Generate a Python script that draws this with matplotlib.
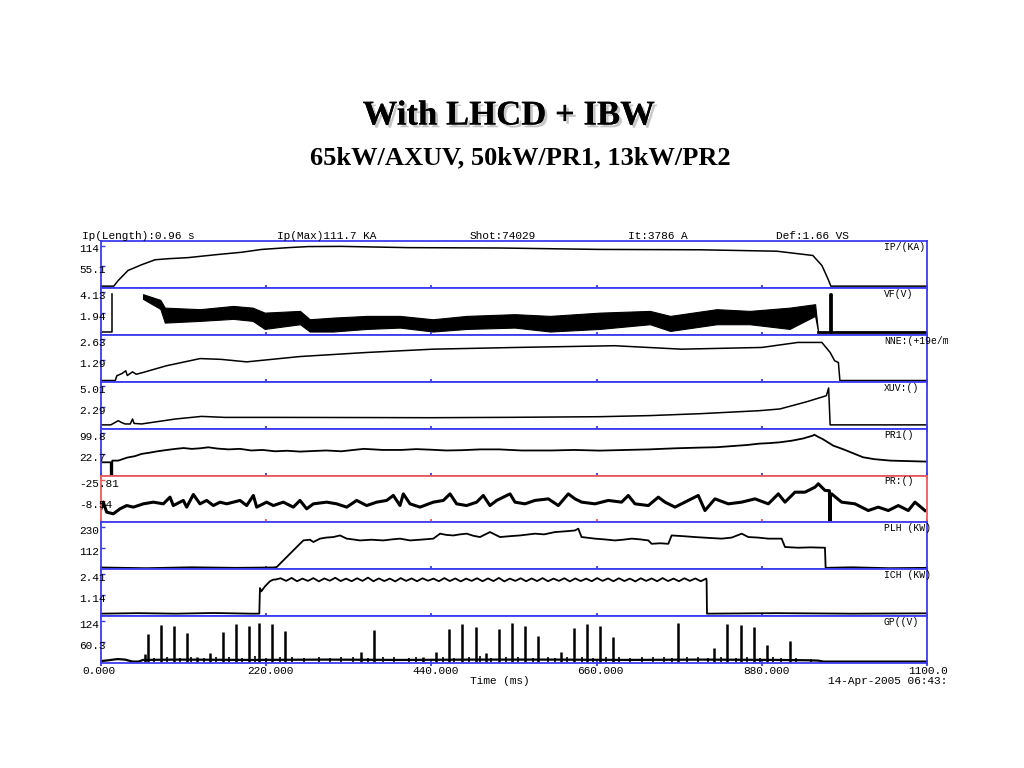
import numpy as np
import matplotlib
matplotlib.use("Agg")
import matplotlib.pyplot as plt
import matplotlib.patheffects as pe
from matplotlib.transforms import Bbox, TransformedBbox, blended_transform_factory, offset_copy

W, H = 1024, 768
BLUE = '#3c3cf0'
RED = '#f05a5a'
MONO = 'Liberation Mono'

# ---- data (time in ms) ----
IP_t = [0, 17, 23, 36, 54, 72, 90, 116, 152, 187, 214, 249, 276, 320, 409, 531, 664, 798, 900, 948, 960, 968, 972, 1100]
IP_v = [0, 0, 16, 44, 60, 74, 77, 80, 88, 95, 103, 108, 111, 111.5, 108, 107, 103, 102, 98, 86, 58, 21, 0, 0]

VF_band_t = [56, 79, 85, 132, 176, 202, 218, 265, 278, 309, 354, 398, 442, 487, 551, 598, 664, 731, 758, 820, 864, 917, 951, 955]
VF_upper = [3.94, 3.35, 2.54, 2.38, 2.72, 2.54, 2.02, 2.20, 1.33, 1.50, 1.68, 1.68, 1.33, 1.68, 1.86, 1.68, 2.02, 2.20, 1.68, 2.38, 2.20, 2.54, 2.90, 0.0]
VF_lower = [3.45, 2.41, 0.98, 1.16, 1.37, 1.16, 0.32, 0.81, 0.05, 0.05, 0.32, 0.46, 0.05, 0.32, 0.46, 0.05, 0.32, 0.81, 0.11, 0.81, 0.81, 0.32, 1.68, 0.0]
VF_lead_t = [0, 14, 14]
VF_lead_v = [0, 0, 3.97]
VF_tail_t = [955, 971, 971, 972, 972, 1100]
VF_tail_v = [0, 0, 3.97, 3.97, 0, 0]

NNE_t = [0, 19, 21, 28, 33, 35, 42, 47, 55, 87, 132, 160, 194, 265, 354, 442, 553, 684, 773, 880, 928, 960, 971, 977, 982, 984, 1100]
NNE_v = [0, 0, 0.30, 0.45, 0.62, 0.32, 0.55, 0.40, 0.50, 0.94, 1.40, 1.35, 1.19, 1.53, 1.79, 2.00, 2.11, 2.22, 2.00, 2.11, 2.43, 2.43, 1.79, 1.26, 1.15, 0, 0]

XUV_t = [0, 13, 23, 27, 32, 39, 42, 44, 54, 99, 134, 165, 232, 350, 438, 550, 664, 730, 798, 877, 904, 940, 966, 969, 971, 1100]
XUV_v = [0, 0, 0.54, 0.32, 0.12, 0.12, 0.76, 0.19, 0.12, 0.76, 1.10, 0.97, 0.97, 0.95, 0.93, 0.98, 1.06, 1.20, 1.45, 1.84, 2.06, 3.00, 3.78, 4.78, 0, 0]

PR1_t = [0, 13, 13, 15, 15, 23, 35, 45, 54, 65, 75, 88, 99, 110, 121, 132, 143, 155, 170, 185, 200, 215, 232, 248, 265, 282, 300, 320,
         350, 375, 400, 420, 438, 460, 480, 505, 530, 560, 600, 630, 664, 700, 730, 765, 798, 820, 840, 860, 877, 890, 904, 920,
         935, 948, 950, 955, 961, 968, 975, 985, 993, 1005, 1015, 1030, 1051, 1075, 1099]
PR1_v = [-7.4, -7.4, -58.8, -58.8, -1.2, -1.2, 10, 15, 23.4, 28, 33, 38, 41.8, 45, 41.8, 44, 47.7, 43, 40, 42, 36, 38, 33, 35, 31.9, 34, 36, 33,
         42, 38, 38, 41, 39, 36, 37, 40, 40, 36, 36, 38, 35.5, 38, 40, 44, 46.6, 48, 52, 56, 61.2, 63, 66, 72,
         80, 90.6, 94, 86, 78, 66, 53.9, 44, 35.5, 22, 11, 4, -1.2, -3, -4.8]

PR2_t = [0, 3.1, 7.5, 16.4, 25.3, 34.2, 43.1, 56.4, 69.7, 83.0, 91.9, 96.3, 109.6, 114.1, 123.0, 131.8, 140.7, 149.6, 158.5, 167.4,
         185.1, 194.0, 202.9, 207.3, 220.6, 229.5, 242.8, 256.1, 265.0, 273.9, 282.8, 300.5, 313.8, 327.2, 340.5, 353.8, 367.1,
         380.4, 389.3, 398.2, 402.6, 411.5, 424.8, 442.6, 455.9, 464.8, 473.6, 486.9, 500.3, 509.1, 518.0, 526.9, 544.7, 551.3,
         564.6, 577.9, 595.7, 609.0, 622.3, 631.2, 640.1, 657.8, 675.6, 693.3, 702.2, 711.1, 728.9, 742.2, 751.1, 764.4, 782.1,
         795.4, 804.3, 817.6, 835.4, 853.2, 870.9, 888.7, 902.0, 910.9, 924.2, 937.5, 950.8, 955.3, 964.2, 970.0, 970.8, 971.5,
         973.0, 986.3, 1004.1, 1021.8, 1035.1, 1048.5, 1061.8, 1075.1, 1084.0, 1097.3]
PR2_v = [-2.1, -7.6, 0.6, 2.0, -2.1, -4.8, -3.5, -6.2, -7.6, -6.2, -11.7, -4.8, -9.0, -3.5, -13.9, -6.2, -9.0, -4.8, -7.6, -6.2,
         -9.0, -4.8, -13.1, -3.5, -7.6, -4.8, -7.6, -3.5, -9.0, -2.1, -6.2, -7.6, -6.2, -3.5, -9.0, -4.8, -7.6,
         -9.0, -13.1, -4.8, -14.4, -6.2, -3.5, -7.6, -9.0, -14.4, -6.2, -4.8, -7.6, -13.1, -4.8, -9.0, -14.4, -7.6,
         -6.2, -9.0, -10.3, -4.8, -14.4, -10.3, -7.6, -6.2, -9.0, -7.6, -13.1, -6.2, -4.8, -11.7, -7.6, -3.5, -9.0,
         -13.1, -0.7, -10.3, -6.2, -7.6, -10.3, -6.2, -14.4, -7.6, -15.8, -15.8, -19.9, -22.7, -17.2, -17.0, 8.85, -14.0,
         -14.4, -7.6, -6.2, -0.7, -3.5, -0.7, -4.8, -0.7, -7.6, -0.7]

PLH_t = [0, 60, 120, 180, 229.5, 234, 247.3, 260.6, 269.5, 278.3, 282.8, 291.6, 300, 309.4, 318.3, 327.2, 335, 344.9, 360, 376,
         388, 398.2, 411.5, 425, 442.6, 451.5, 460, 469.2, 478, 487, 496, 504.7, 518, 531.3, 545, 558, 578, 590, 604.6, 618,
         631.2, 635.6, 640, 657.8, 670, 684.5, 695, 706.7, 718, 728.9, 733.3, 745, 755.5, 759.9, 775, 791, 810, 826.5, 840,
         853.2, 862, 875, 888.7, 906.4, 910.9, 928.6, 945, 964.1, 965, 1000, 1050, 1100]
PLH_v = [2, -2, 3, 0, 2, 4.5, 60.6, 116.8, 154, 158, 145, 164, 170, 173, 182, 164, 160, 154, 158, 154,
         160, 164, 154, 158, 164, 192, 185, 182, 188, 192, 180, 173, 201, 173, 178, 182, 192, 188, 201, 205,
         210, 220, 173, 164, 160, 154, 158, 164, 160, 154, 135, 138, 135, 182, 178, 173, 168, 164, 170,
         192, 173, 170, 164, 164, 117, 113, 115, 113, 0, 3, -2, 0]

ICH_head_t = [0, 50, 100, 150, 200, 210.8, 211.7, 213.5, 218.4, 225, 229.5]
ICH_head_v = [0, 0.03, 0, 0.04, 0, 0, 1.55, 1.35, 1.65, 1.96, 2.06]
ICH_wave = [2.06, 2.14, 1.98, 2.16, 1.96, 2.12, 1.98, 2.15, 1.95, 2.13,
            1.99, 2.17, 1.97, 2.12, 1.96, 2.14, 1.98, 2.18, 1.96, 2.13,
            1.97, 2.12, 1.95, 2.15, 1.98, 2.13, 1.96, 2.14, 1.99, 2.12,
            1.96, 2.15, 1.97, 2.13, 1.95, 2.12, 1.98, 2.14, 1.96, 2.13,
            1.97, 2.16, 1.95, 2.12, 1.98, 2.14, 1.96, 2.13, 1.97, 2.15,
            1.96, 2.12, 1.98, 2.14, 1.95, 2.13, 1.97, 2.12, 1.96, 2.15,
            1.98, 2.13, 1.96, 2.14, 1.97, 2.12, 1.95, 2.14, 1.98, 2.13,
            1.96, 2.15, 1.97, 2.12, 1.96, 2.14, 1.98, 2.13, 1.96, 2.12]
ICH_tail_t = [806.5, 807, 900, 1000, 1100]
ICH_tail_v = [1.98, 0, 0.03, 0, 0.02]

GP_base_t = [0, 10, 22, 32, 42, 50, 56, 100, 200, 300, 400, 500, 600, 700, 800, 900, 940, 955, 962, 1100]
GP_base_v = [1.5, 4, 7.6, 6, 0, 0, 5, 6, 5, 6, 5, 6, 6, 5, 6, 5, 4, 3, 0, 0]
GP_spike_t = [58.6, 62.1, 79.5, 97.2, 114.5, 127.4, 145.2, 162.9, 179.8, 197.1, 210.4, 228.2, 245.5, 346.2, 363.6,
              429.3, 446.1, 463.9, 481.2, 498.9, 512.3, 529.6, 547.3, 564.6, 581.5, 612.1, 629.9, 647.2, 664.5,
              681.8, 768.8, 816.8, 834.1, 851.8, 869.1, 886.4, 917.5]
GP_spike_v = [23, 84, 112, 109, 87, 13, 26, 89, 114, 109, 116, 114, 94, 28, 97,
              14, 29, 100, 113, 106, 26, 100, 116, 109, 79, 29, 102, 115, 109,
              75, 117, 42, 114, 112, 106, 49, 62]
GP_small_t = [70, 88, 105, 120, 137, 153, 170, 188, 205, 220, 238, 255, 270, 290, 305, 320, 335, 355, 375, 390,
              410, 420, 455, 470, 490, 505, 520, 540, 555, 575, 595, 605, 620, 640, 655, 672, 690, 705, 720,
              735, 750, 760, 780, 795, 808, 825, 845, 860, 878, 895, 905, 925, 945]
GP_small_v = [12, 14, 11, 15, 12, 13, 14, 11, 16, 12, 13, 15, 12, 14, 11, 13, 15, 12, 14, 13,
              11, 15, 13, 12, 14, 16, 12, 13, 15, 12, 14, 11, 13, 15, 12, 14, 13, 12, 15,
              13, 14, 12, 13, 15, 12, 14, 11, 13, 12, 14, 11, 10, 8]

PANEL_NAMES = ['IP/(KA)', 'VF(V)', 'NNE:(+19e/m3)', 'XUV:()', 'PR1()', 'PR:()', 'PLH (KW)', 'ICH (KW)', 'GP((V)']
LABEL_TOP = ['114', '4.13', '2.63', '5.01', '99.8', '-25.81', '230', '2.41', '124']
LABEL_MID = ['55.1', '1.94', '1.29', '2.29', '22.7', '-8.54', '112', '1.14', '60.3']
TIME_TICKS = [0, 220, 440, 660, 880, 1100]
TIME_LABELS = ['0.000', '220.000', '440.000', '660.000', '880.000', '1100.000']
HEADER = [('Ip(Length):0.96 s', 82), ('Ip(Max)111.7 KA', 277), ('Shot:74029', 470),
          ('It:3786 A', 628), ('Def:1.66 VS', 776)]

# ---- layout ----
X0, X1 = 101, 927
TOP, PH = 241, 46.9

fig = plt.figure(figsize=(W / 100, H / 100), dpi=100)
fig.patch.set_facecolor('white')

clip = TransformedBbox(Bbox.from_extents(0, 0, 948 / W, 1), fig.transFigure)


def ftext(x, y, s, **kw):
    t = fig.text(x / W, 1 - y / H, s, **kw)
    t.set_clip_box(clip)
    t.set_clip_on(True)
    return t


fig.text(0.497, 1 - 116 / H, 'With LHCD + IBW', ha='center', va='center', family='Liberation Serif',
         weight='bold', fontsize=25,
         path_effects=[pe.withSimplePatchShadow(offset=(2, -2), shadow_rgbFace='#b0b0b0', alpha=0.7), pe.Normal()])
fig.text(0.508, 1 - 158 / H, '65kW/AXUV, 50kW/PR1, 13kW/PR2', ha='center', va='center',
         family='Liberation Serif', weight='bold', fontsize=19)

for s, x in HEADER:
    ftext(x, 236, s, family=MONO, fontsize=8, va='center', ha='left')

axes = []
for i in range(9):
    top = TOP + PH * i
    ax = fig.add_axes([X0 / W, 1 - (top + PH) / H, (X1 - X0) / W, PH / H])
    axes.append(ax)
    col = RED if i == 5 else BLUE
    for sp in ax.spines.values():
        sp.set_color(col)
        sp.set_linewidth(1.3)
    vt, vm = float(LABEL_TOP[i]), float(LABEL_MID[i])
    k = (vt - vm) / 21.0
    ax.set_ylim(vm - (PH - 25.5) * k, vt + 4.5 * k)
    ax.set_xlim(0, 1100)
    ax.set_xticks(TIME_TICKS)
    ax.set_xticklabels([])
    ax.set_yticks([vt, vm])
    ax.set_yticklabels([])
    ax.tick_params(axis='x', direction='inout', length=4, width=1.3, color=col)
    ax.tick_params(axis='y', direction='in', length=3, width=1.0, color=col)
    tr = offset_copy(blended_transform_factory(ax.transAxes, ax.transData), fig=fig, x=0, y=1, units='dots')
    fx = (79 - X0) / (X1 - X0)
    ax.text(fx, vt, LABEL_TOP[i], transform=tr, family=MONO, fontsize=8, ha='left', va='top', clip_on=False)
    ax.text(fx, vm, LABEL_MID[i], transform=tr, family=MONO, fontsize=8, ha='left', va='top', clip_on=False)
    ftext(884, top + 6, PANEL_NAMES[i], family=MONO, fontsize=7, va='center', ha='left')

kw = dict(color='black', lw=1.1)
axes[0].plot(IP_t, IP_v, **kw)

axes[1].fill_between(VF_band_t, VF_lower, VF_upper, facecolor='black', edgecolor='black', lw=0.8)
axes[1].plot(VF_lead_t, VF_lead_v, **kw)
axes[1].plot(VF_tail_t, VF_tail_v, color='black', lw=2)

axes[2].plot(NNE_t, NNE_v, **kw)
axes[3].plot(XUV_t, XUV_v, **kw)
axes[4].plot(PR1_t, PR1_v, color='black', lw=1.3)
axes[5].plot(PR2_t, PR2_v, color='black', lw=2.2)
axes[6].plot(PLH_t, PLH_v, color='black', lw=1.3)

ich_t = ICH_head_t + list(np.linspace(232, 806, len(ICH_wave))) + ICH_tail_t
ich_v = ICH_head_v + ICH_wave + ICH_tail_v
axes[7].plot(ich_t, ich_v, color='black', lw=1.3)

axes[8].plot(GP_base_t, GP_base_v, color='black', lw=1.6)
axes[8].vlines(GP_small_t, 0, GP_small_v, color='black', lw=1.2)
axes[8].vlines(GP_spike_t, 0, GP_spike_v, color='black', lw=1.8)

# time axis labels
for t, lab in zip(TIME_TICKS, TIME_LABELS):
    x = X0 + t * (X1 - X0) / 1100 - 19
    ftext(x, 671, lab, family=MONO, fontsize=8, va='center', ha='left')
ftext(470, 681, 'Time (ms)', family=MONO, fontsize=8, va='center', ha='left')
ftext(828, 681, '14-Apr-2005 06:43:53', family=MONO, fontsize=8, va='center', ha='left')

fig.savefig('out.png', dpi=100, facecolor='white')
